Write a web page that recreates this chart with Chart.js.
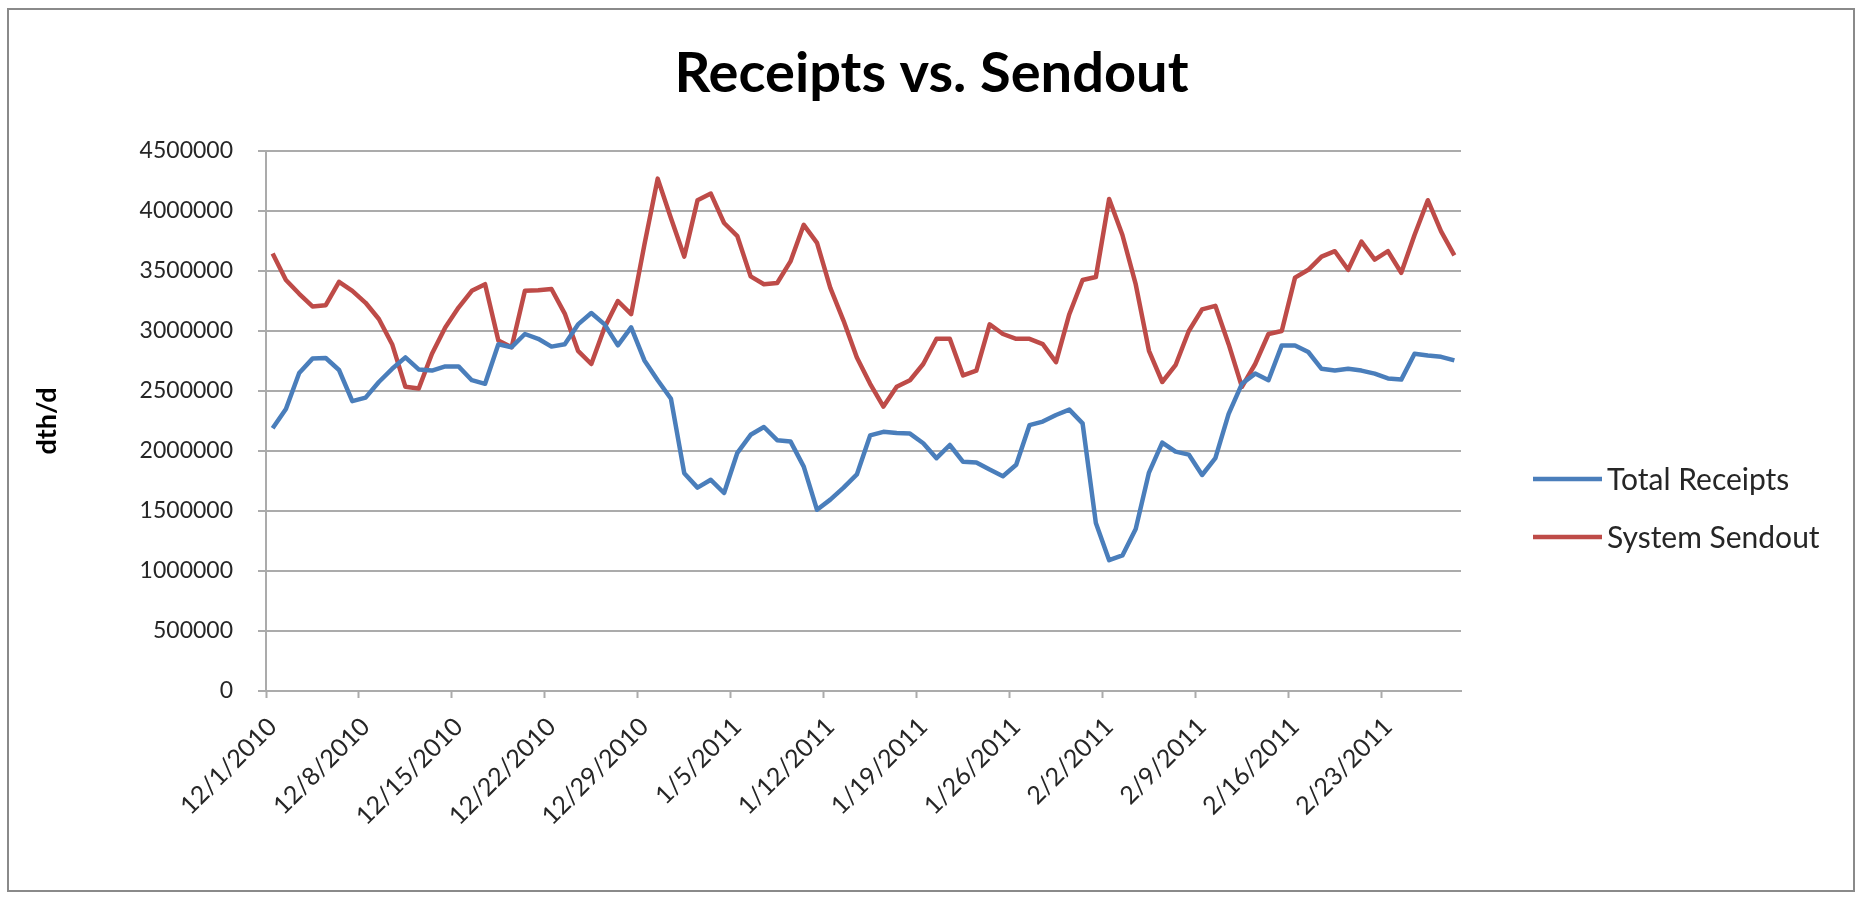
<!DOCTYPE html>
<html>
<head>
<meta charset="utf-8">
<title>Receipts vs. Sendout</title>
<script src="https://cdn.jsdelivr.net/npm/chart.js@4.4.1/dist/chart.umd.min.js"></script>
<style>
  html, body { margin: 0; padding: 0; background: #fff; }
  #wrap { width: 1863px; height: 899px; position: relative; }
</style>
</head>
<body>
<div id="wrap"><canvas id="chart"></canvas></div>
<script>
// one category per day, 12/1/2010 .. 2/28/2011
const dates = [];
for (let i = 0; i < 90; i++) {
  const d = new Date(2010, 11, 1 + i);
  dates.push((d.getMonth() + 1) + '/' + d.getDate() + '/' + d.getFullYear());
}

const tickLabels = ['12/1/2010', '12/8/2010', '12/15/2010', '12/22/2010', '12/29/2010',
  '1/5/2011', '1/12/2011', '1/19/2011', '1/26/2011', '2/2/2011', '2/9/2011',
  '2/16/2011', '2/23/2011'];

const totalReceipts = [
  2190000, 2350000, 2650000, 2770000, 2775000, 2675000, 2415000, 2445000, 2575000, 2685000,
  2780000, 2680000, 2670000, 2705000, 2705000, 2590000, 2560000, 2890000, 2865000, 2975000,
  2935000, 2870000, 2890000, 3055000, 3150000, 3055000, 2880000, 3030000, 2755000, 2590000,
  2435000, 1815000, 1695000, 1760000, 1650000, 1985000, 2135000, 2200000, 2090000, 2080000,
  1870000, 1510000, 1595000, 1695000, 1805000, 2130000, 2160000, 2150000, 2145000, 2065000,
  1940000, 2050000, 1910000, 1905000, 1845000, 1790000, 1885000, 2215000, 2245000, 2300000,
  2345000, 2230000, 1400000, 1090000, 1130000, 1350000, 1820000, 2070000, 1995000, 1970000,
  1800000, 1940000, 2310000, 2560000, 2645000, 2590000, 2880000, 2880000, 2825000, 2685000,
  2670000, 2685000, 2670000, 2645000, 2605000, 2595000, 2810000, 2795000, 2785000, 2755000
];

const systemSendout = [
  3645000, 3425000, 3310000, 3205000, 3215000, 3410000, 3335000, 3235000, 3100000, 2890000,
  2535000, 2520000, 2810000, 3030000, 3195000, 3335000, 3390000, 2920000, 2865000, 3335000,
  3340000, 3350000, 3145000, 2835000, 2725000, 3030000, 3250000, 3140000, 3720000, 4270000,
  3940000, 3620000, 4090000, 4145000, 3900000, 3790000, 3455000, 3390000, 3400000, 3580000,
  3885000, 3735000, 3360000, 3085000, 2780000, 2560000, 2370000, 2535000, 2590000, 2725000,
  2935000, 2935000, 2630000, 2670000, 3055000, 2975000, 2935000, 2935000, 2890000, 2740000,
  3140000, 3425000, 3450000, 4100000, 3800000, 3390000, 2835000, 2575000, 2715000, 3000000,
  3180000, 3210000, 2890000, 2535000, 2725000, 2975000, 3000000, 3445000, 3510000, 3620000,
  3665000, 3510000, 3745000, 3595000, 3665000, 3485000, 3800000, 4090000, 3830000, 3630000
];

const axisGray = '#ababab';
const textColor = '#262626';

// white background, gray frame and the title centred on the whole canvas
const framePlugin = {
  id: 'frame',
  beforeDraw(chart) {
    const c = chart.ctx;
    c.save();
    c.fillStyle = '#fff';
    c.fillRect(0, 0, chart.width, chart.height);
    c.strokeStyle = '#8a8a8a';
    c.lineWidth = 2;
    c.strokeRect(8, 9, 1846, 882);
    c.fillStyle = '#000';
    c.font = 'bold 56px Lato';
    c.textAlign = 'center';
    c.textBaseline = 'middle';
    c.fillText('Receipts vs. Sendout', chart.width / 2, 74);
    c.restore();
  }
};

// legend on the right, line samples like Excel
const sideLegend = {
  id: 'sideLegend',
  afterDraw(chart) {
    const c = chart.ctx;
    chart.data.datasets.forEach((ds, i) => {
      const y = 479 + i * 58;
      c.save();
      c.strokeStyle = ds.borderColor;
      c.lineWidth = 4.5;
      c.beginPath();
      c.moveTo(1533, y);
      c.lineTo(1602, y);
      c.stroke();
      c.fillStyle = textColor;
      c.font = '30px Lato';
      c.textBaseline = 'middle';
      c.fillText(ds.label, 1607, y + 1);
      c.restore();
    });
  }
};

new Chart(document.getElementById('chart'), {
  type: 'line',
  data: {
    labels: dates,
    datasets: [
      {
        label: 'Total Receipts',
        data: totalReceipts,
        borderColor: '#4a7ebb',
        backgroundColor: '#4a7ebb',
        borderWidth: 4.5,
        pointRadius: 0,
        borderJoinStyle: 'round',
        tension: 0
      },
      {
        label: 'System Sendout',
        data: systemSendout,
        borderColor: '#be4b48',
        backgroundColor: '#be4b48',
        borderWidth: 4.5,
        pointRadius: 0,
        borderJoinStyle: 'round',
        tension: 0
      }
    ]
  },
  options: {
    responsive: true,
    maintainAspectRatio: false,
    animation: false,
    layout: { padding: { left: 0, right: 402, top: 151, bottom: 0 } },
    plugins: {
      legend: { display: false },
      tooltip: { enabled: false },
      title: { display: false }
    },
    scales: {
      x: {
        type: 'category',
        offset: true,
        border: { display: true, color: axisGray, width: 2 },
        grid: {
          offset: true,
          drawOnChartArea: false,
          tickLength: 7,
          tickWidth: 2,
          tickColor: ctx => tickLabels.includes(dates[ctx.index]) ? axisGray : 'rgba(0,0,0,0)'
        },
        ticks: {
          autoSkip: false,
          minRotation: 45,
          maxRotation: 45,
          padding: 14,
          color: textColor,
          font: { family: 'Lato', size: 25 },
          callback: (v, i) => tickLabels.includes(dates[i]) ? dates[i] : ''
        },
        afterFit(scale) { scale.height = 208; }
      },
      y: {
        min: 0,
        max: 4500000,
        border: { display: true, color: axisGray, width: 2 },
        grid: { color: axisGray, lineWidth: 2, tickLength: 8 },
        ticks: {
          stepSize: 500000,
          padding: 25,
          color: textColor,
          font: { family: 'Lato', size: 23 },
          callback: v => String(v)
        },
        title: {
          display: true,
          text: 'dth/d',
          color: '#000',
          font: { family: 'Lato', size: 27, weight: 'bold' },
          padding: { top: 31, bottom: 0 }
        },
        afterFit(scale) { scale.width = 266; }
      }
    }
  },
  plugins: [framePlugin, sideLegend]
});
</script>
</body>
</html>
